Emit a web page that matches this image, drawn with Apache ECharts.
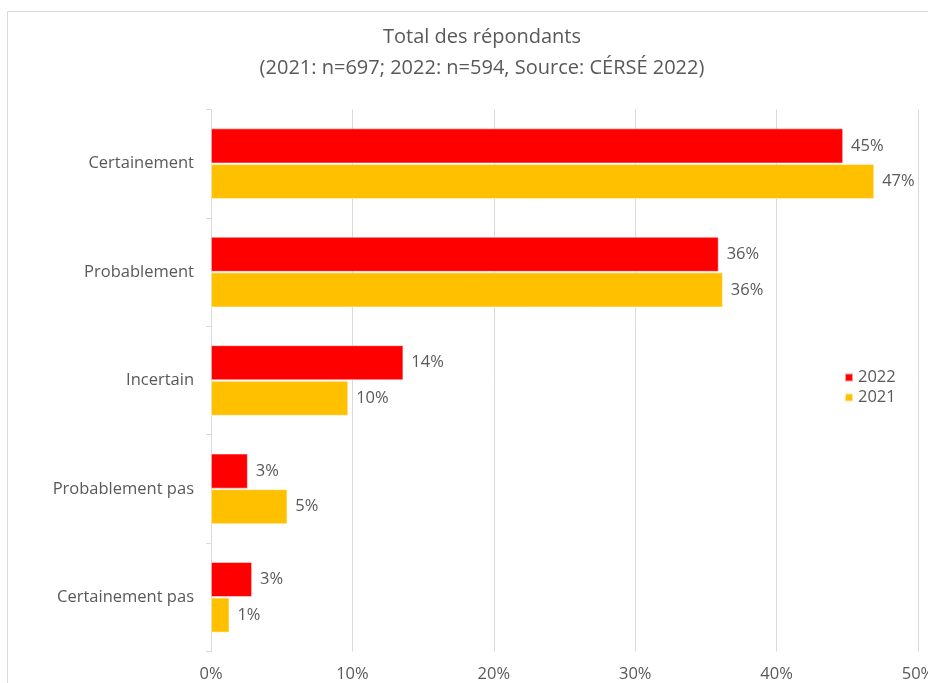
<!DOCTYPE html>
<html>
<head>
<meta charset="utf-8">
<style>
  html, body { margin: 0; padding: 0; background: #ffffff; }
  #chart { width: 928px; height: 683px; }
</style>
<script src="https://cdn.jsdelivr.net/npm/echarts@6/dist/echarts.min.js"></script>
</head>
<body>
<div id="chart"></div>
<script>
// Response categories, top to bottom
const categories = ['Certainement', 'Probablement', 'Incertain', 'Probablement pas', 'Certainement pas'];

// Share of respondents (%) per survey year
const values2022 = [44.7, 35.9, 13.6, 2.6, 2.9];
const values2021 = [46.9, 36.2, 9.7, 5.4, 1.3];

// Horizontal axis ticks (%)
const xTicks = [0, 10, 20, 30, 40, 50];

const titleLines = ['Total des répondants', '(2021: n=697; 2022: n=594, Source: CÉRSÉ 2022)'];

const FONT = '"Open Sans", "Noto Sans", sans-serif';
const TEXT = '#595959';
const LABEL_SIZE = 16.5;

const chart = echarts.init(document.getElementById('chart'), null, { renderer: 'canvas' });

function barSeries(name, data, color) {
  return {
    name: name,
    type: 'bar',
    data: data,
    barGap: '2%',
    barCategoryGap: '35%',
    itemStyle: { color: color, borderColor: 'rgba(255,255,255,0.6)', borderWidth: 0.8 },
    label: {
      show: true,
      position: 'right',
      distance: 8,
      formatter: p => Math.round(p.value) + '%',
      color: TEXT,
      fontFamily: FONT,
      fontSize: LABEL_SIZE
    },
    emphasis: { disabled: true },
    animation: false
  };
}

chart.setOption({
  backgroundColor: '#ffffff',
  animation: false,
  title: {
    text: titleLines.join('\n'),
    left: 477,
    textAlign: 'center',
    top: 17,
    itemGap: 0,
    textStyle: {
      color: TEXT,
      fontFamily: FONT,
      fontWeight: 'normal',
      fontSize: 20,
      lineHeight: 31
    }
  },
  graphic: [{
    type: 'rect',
    left: 5, top: 9,
    shape: { x: 0.5, y: 0.5, width: 960, height: 720 },
    style: { fill: 'none', stroke: '#d9d9d9', lineWidth: 1 },
    silent: true
  }],
  legend: {
    orient: 'vertical',
    left: 839,
    top: 364,
    itemWidth: 8,
    itemHeight: 8,
    itemGap: 3,
    icon: 'rect',
    textStyle: { color: TEXT, fontFamily: FONT, fontSize: LABEL_SIZE },
    data: ['2022', '2021']
  },
  grid: { left: 211, right: 10, top: 109.5, bottom: 31.5, outerBoundsMode: 'none' },
  xAxis: {
    type: 'value',
    min: xTicks[0],
    max: xTicks[xTicks.length - 1],
    interval: xTicks[1] - xTicks[0],
    axisLine: { show: false },
    axisTick: { show: false },
    splitLine: { show: true, lineStyle: { color: '#d9d9d9', width: 1 } },
    axisLabel: {
      color: TEXT,
      fontFamily: FONT,
      fontSize: LABEL_SIZE,
      margin: 14,
      formatter: v => v + '%'
    }
  },
  yAxis: {
    type: 'category',
    data: categories,
    inverse: true,
    axisLine: { show: true, lineStyle: { color: '#d9d9d9', width: 1 } },
    axisTick: { show: true, length: 5, lineStyle: { color: '#d9d9d9' } },
    axisLabel: {
      color: TEXT,
      fontFamily: FONT,
      fontSize: LABEL_SIZE,
      margin: 17
    },
    splitLine: { show: false }
  },
  series: [
    barSeries('2022', values2022, '#ff0000'),
    barSeries('2021', values2021, '#ffc000')
  ]
});
</script>
</body>
</html>
